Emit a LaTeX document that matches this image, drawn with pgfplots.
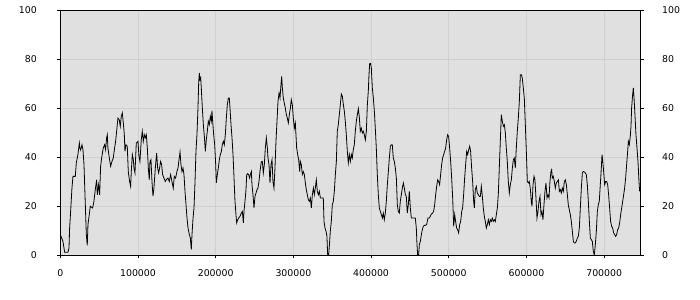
\documentclass[border=0pt]{standalone}
\usepackage{fontspec}
\setmainfont{DejaVu Sans}
\usepackage{pgfplots}
\pgfplotsset{compat=1.18}
\usepackage{pgfplotstable}
\definecolor{bgc}{RGB}{224,224,224}
\definecolor{gridc}{RGB}{208,208,208}
\newcommand\lbl{\fontsize{9.4}{11}\selectfont}
\pgfplotstableread{
x y
0 8.3
3400 5.6
5600 1.1
9900 1.1
11200 2.9
12000 11.0
13300 17.8
15000 27.3
16300 32.1
19300 32.1
20600 37.6
22700 41.0
24500 45.7
25300 43.5
26200 42.8
27900 45.0
29200 43.0
30500 36.9
32200 20.5
33500 8.3
34700 3.9
35600 12.4
37300 16.5
38600 19.9
41600 19.2
43300 21.9
45000 26.7
46800 30.7
47600 24.6
49300 28.7
50600 24.6
51900 36.2
53200 39.6
55300 43.7
57100 45.0
58300 43.0
59600 47.8
60500 49.1
61300 43.7
63100 39.6
64800 36.2
66500 38.2
68200 39.6
69900 43.7
71200 46.4
72500 50.5
74200 55.9
75900 55.2
77200 52.5
78500 56.6
79800 58.0
81100 53.9
82400 49.1
83200 42.3
84500 45.0
86200 44.4
87500 34.1
89200 30.0
90500 28.0
91400 34.1
92700 41.0
94000 38.9
94800 35.5
96100 33.5
97800 45.7
100000 46.4
101200 40.3
102500 38.2
104200 47.0
105500 50.5
106800 46.4
108100 49.1
109400 47.8
110700 49.1
112000 43.7
113300 35.5
114500 30.7
115400 38.2
116700 38.9
118000 30.0
119300 24.0
120500 27.3
122300 35.5
124000 41.6
125300 35.5
126600 33.5
127800 35.5
129100 38.2
130400 36.9
131700 32.8
133400 31.4
135100 30.0
136400 30.7
138600 31.4
140300 30.0
142000 32.8
143700 30.0
145400 27.3
146700 32.1
148400 31.4
150100 34.1
151500 35.5
152800 38.9
154100 42.0
155300 36.9
156600 34.0
157900 35.5
159200 32.8
160500 26.0
161800 20.5
163100 15.0
164400 11.0
166100 8.3
167400 6.9
168600 2.2
169500 8.3
170800 15.0
172100 19.2
173400 30.0
174600 42.3
175900 49.1
177200 60.0
178100 70.2
178900 74.3
179800 71.6
180700 72.3
181500 68.0
182800 60.0
184100 53.2
185400 48.4
186700 42.3
187900 47.0
189200 50.5
190500 54.6
191800 53.2
193100 56.6
194400 54.6
195200 58.9
196100 54.6
197400 49.1
198700 45.0
200000 36.9
200800 29.4
202100 32.8
203400 35.5
204700 38.9
206000 41.0
207300 42.3
208500 45.0
209800 46.4
211100 45.0
212400 49.1
213700 55.9
215000 61.4
216300 64.1
217500 64.1
218400 60.0
219700 53.2
221000 47.8
222300 41.0
223600 31.4
224800 22.0
226100 16.5
227000 13.1
228300 14.4
229600 15.1
231300 15.8
233000 17.1
234300 17.8
235600 13.1
236400 17.8
237700 21.9
239000 26.7
239900 32.8
241100 33.2
242400 32.8
243700 31.4
244600 32.8
245900 34.1
246700 28.7
248000 24.6
249300 19.2
250600 24.0
251900 25.3
253200 26.7
254400 27.3
255700 30.0
257000 34.1
258700 38.0
260000 38.2
261300 33.5
262600 36.9
263900 43.7
265200 47.8
266500 43.7
267300 39.6
268600 36.9
269900 29.4
271200 36.9
272500 38.9
273700 30.0
275000 27.3
276300 35.5
277600 46.4
278900 54.6
280200 62.7
281500 66.1
282800 64.1
284000 69.5
284900 72.9
285800 68.2
287000 64.1
288300 62.0
289600 60.0
290900 57.3
292200 55.9
293500 53.9
294800 57.3
296100 60.0
297300 63.4
298600 61.4
299900 55.9
301200 51.8
302500 53.9
304200 43.7
305500 41.0
306800 38.9
308100 34.0
308900 38.2
310200 36.9
311500 32.8
312800 34.0
314100 32.8
315400 29.4
316600 26.7
317900 24.6
319200 22.6
320500 21.9
321800 23.3
323100 19.2
324400 24.6
325700 27.3
326900 24.6
328200 27.3
329500 30.7
330800 26.0
332100 24.6
333400 26.0
334700 23.3
336800 23.3
338500 23.3
339400 13.7
340700 11.0
342000 9.7
343200 7.6
344100 0.1
345400 0
346700 5.6
347500 9.7
348800 13.7
350100 20.5
351400 21.9
352700 26.0
354000 32.8
355300 38.2
356500 50.5
357800 53.2
359100 57.3
360400 61.4
361700 65.7
363000 64.8
364300 61.4
365600 58.6
366800 54.6
368100 49.1
369400 42.3
370700 37.6
372000 41.0
373300 38.2
374600 41.0
375800 39.6
377100 43.0
378400 45.0
379700 50.5
381000 54.6
382300 57.3
383600 59.7
384900 56.0
386100 50.5
387400 51.8
388700 49.8
390000 50.5
391300 49.1
392600 47.0
393900 50.5
395200 61.4
396400 66.8
397300 73.6
398200 78.2
399400 78.2
400300 76.3
401600 68.2
402900 64.1
404200 58.6
405400 51.8
406700 43.7
408000 32.8
409300 24.6
410600 19.2
411900 17.8
413200 16.5
414500 15.1
415700 17.1
417000 14.4
418300 17.1
419600 21.9
420900 28.7
422200 34.0
423500 39.6
424800 44.4
426000 45.0
427300 45.0
428600 39.6
429900 38.2
431200 35.5
432500 31.4
433800 20.5
435000 17.8
436300 17.1
437600 21.9
438900 24.6
440200 27.3
441500 29.4
442800 27.3
444100 24.6
445300 24.0
446600 17.1
447900 20.5
449200 26.0
450500 19.2
451800 15.1
453100 15.1
455200 15.1
456900 15.1
458200 11.0
459100 4.2
459900 0.1
461200 0
462100 4.2
463400 5.6
464700 8.3
465900 10.3
467200 11.7
468500 12.1
469800 12.1
471500 12.4
473200 15.1
474900 15.1
476200 15.8
477500 16.7
479200 17.1
480500 17.8
481800 20.5
483100 24.6
484400 28.0
485700 30.7
487000 30.0
488200 28.7
489500 32.8
490800 36.9
492100 39.6
493400 41.0
494700 42.3
496000 43.7
497300 47.0
498500 49.1
499800 48.4
501100 43.7
502400 38.2
503700 31.4
505000 23.3
506300 11.7
507600 16.5
508800 13.7
510100 11.0
511400 10.3
512700 9.0
514000 12.4
515300 13.7
516600 17.8
517800 19.2
519100 24.6
520400 31.4
521700 36.9
523000 42.3
524300 41.0
525600 43.0
526900 44.4
528100 42.3
529400 35.5
530700 30.0
532000 21.9
532900 19.2
534100 26.7
535400 28.0
536700 25.3
538000 24.6
539300 23.9
540600 23.9
541900 28.0
543200 23.9
544400 19.2
545700 15.8
547000 13.7
548300 11.0
549600 12.4
550900 14.4
552200 12.4
553500 14.4
554700 13.7
556000 15.1
557300 13.7
558600 14.4
559900 13.7
561200 16.5
562500 19.2
563700 24.6
565000 35.5
566300 46.4
567600 57.3
568900 54.6
570200 52.5
571500 53.2
572800 49.8
574000 43.7
575300 38.2
576600 30.0
577900 25.3
579200 28.7
580500 30.7
581800 35.5
583100 38.9
584300 39.6
585600 35.5
586900 43.7
588200 50.5
589500 56.0
590800 62.7
592100 73.6
593400 73.6
594600 72.2
595900 68.2
597200 64.1
598500 53.2
599800 42.3
601100 30.0
602400 29.4
603600 30.0
604900 27.3
606200 21.9
607100 19.9
608400 28.7
609700 32.1
610900 30.7
612200 23.3
613500 15.1
614800 17.8
616100 21.9
617400 23.9
618700 16.5
619900 17.8
621200 14.4
622500 20.5
623800 26.0
625100 29.4
626400 23.3
627700 24.6
629000 23.3
630200 30.0
631500 34.1
632400 34.8
633200 31.4
634500 32.1
635800 30.0
637100 27.3
638400 29.4
639700 30.0
641000 30.7
642300 26.0
643500 26.7
644800 25.3
646100 27.3
647400 26.0
648700 30.0
650000 30.7
651300 28.7
652600 24.6
653800 20.5
655100 18.5
656400 16.5
657700 13.7
659000 9.7
660300 5.6
661600 4.9
662800 4.9
664100 5.6
665400 6.9
666700 7.6
668000 11.0
669300 19.2
670600 27.3
671900 33.5
673100 34.1
674400 33.9
675700 33.5
677000 32.8
678300 28.7
679600 21.9
680900 13.7
682200 6.9
683400 6.3
684700 5.6
686000 1.5
687300 0
688600 4.2
689900 9.7
691200 17.8
692400 20.5
693700 21.9
695000 28.7
696300 35.5
697200 41.0
698000 38.9
699300 34.1
700600 28.7
701900 30.0
703200 30.0
704500 28.7
705700 24.6
707000 19.2
708300 13.7
709600 11.7
710900 11.0
712200 9.0
713500 8.3
714800 7.6
716000 8.3
717300 10.3
718600 11.0
719900 13.1
721200 16.5
722500 19.2
723800 21.9
725100 24.6
726300 27.3
727600 31.4
728900 36.9
730200 42.3
731100 46.4
732300 45.0
733600 48.4
734500 52.5
735300 60.0
736600 65.4
737500 68.2
738400 64.1
739600 57.3
740900 49.1
742200 43.7
743500 38.2
744800 30.0
745600 26.0
}\series
\begin{document}
\begin{tikzpicture}
\begin{axis}[
  at={(0,0)}, anchor=south west,
  scale only axis, width=580.4bp, height=245bp,
  xmin=0, xmax=747000, ymin=0, ymax=100,
  axis background/.style={fill=bgc},
  grid=major, major grid style={gridc, line width=0.8bp},
  xtick={0,100000,...,700000}, ytick={0,20,...,100},
  tick align=outside, major tick length=3bp,
  xtick pos=left, ytick pos=left,
  scaled x ticks=false,
  /pgf/number format/assume math mode=true,
  x tick label style={/pgf/number format/fixed, /pgf/number format/1000 sep={}, font=\lbl, yshift=-8bp},
  y tick label style={font=\lbl, xshift=-17bp},
  axis line style={black, line width=0.8bp},
  tick style={black, line width=0.8bp},
]
\addplot[black, line width=0.8bp, mark=none] table[x=x, y=y] {\series};
\end{axis}
\begin{axis}[
  at={(0,0)}, anchor=south west,
  scale only axis, width=580.4bp, height=245bp,
  xmin=0, xmax=747000, ymin=0, ymax=100,
  xtick=\empty, ytick={0,20,...,100},
  tick align=outside, major tick length=3bp,
  ytick pos=right, yticklabel pos=right,
  /pgf/number format/assume math mode=true,
  y tick label style={font=\lbl, xshift=15bp},
  axis line style={draw=none},
  tick style={black, line width=0.8bp},
]
\addplot[draw=none] coordinates {(0,0)};
\end{axis}
\pgfresetboundingbox
\path (-60.3bp,-45bp) rectangle (639.7bp,255bp);
\end{tikzpicture}
\end{document}
